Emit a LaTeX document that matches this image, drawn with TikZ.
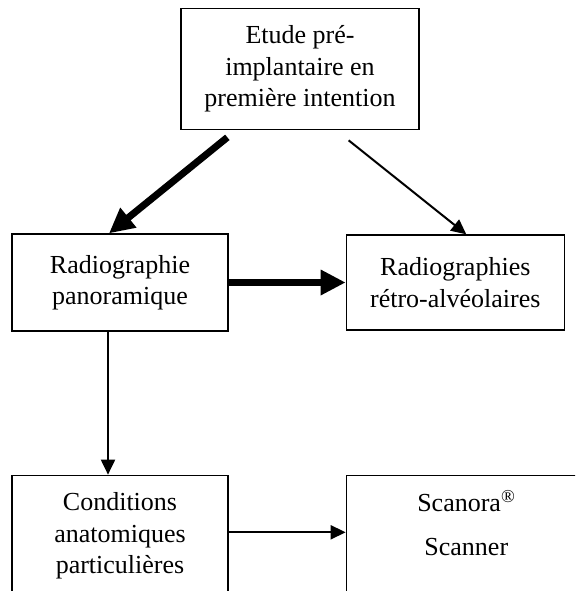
\documentclass[tikz,border=0pt]{standalone}
\usepackage{fontspec}
\setmainfont{Liberation Serif}
\usetikzlibrary{arrows.meta, positioning}

\begin{document}
\begin{tikzpicture}[
  x=1pt, y=-1pt,
  font=\fontsize{26}{31.5}\selectfont,
  box/.style     ={rectangle, draw=black, line width=1.3pt, align=center, inner sep=0pt, minimum width=216pt, minimum height=97pt},
  tallbox/.style ={box, minimum height=121pt},
  thinarr/.style ={-{Triangle[length=15pt, width=14pt]}, line width=2pt},
  thickarr/.style={-{Triangle[length=25pt, width=24pt]}, line width=7pt}
]
\useasboundingbox (0,0) rectangle (575,591);
\clip (0,0) rectangle (575,591);

% ---- middle row ----
\node[box] (pano) at (120,282.5) {Radiographie\\panoramique};
\node[box, minimum width=218pt, minimum height=95pt] (retro) [right=117pt of pano] {Radiographies\\rétro-alvéolaires};

% ---- top ----
\node[tallbox, minimum width=238pt] (etude) [above=103pt of pano, xshift=180pt] {Etude pré-\\implantaire en\\première intention};

% ---- bottom row (cut by the page edge) ----
\node[tallbox] (cond) [below=143pt of pano] {Conditions\\anatomiques\\particulières};
\node[tallbox, minimum width=240pt] (scan) [right=117pt of cond] {Scanora\textsuperscript{®}\\[12.5pt]Scanner\rule[-25.8pt]{0pt}{1pt}};

% ---- edges ----
\draw[thickarr] ([xshift=47pt, yshift=-7pt]etude.south west) -- ([xshift=-11pt]pano.north);
\draw[thinarr]  ([xshift=-71pt, yshift=-10pt]etude.south east) -- ([xshift=11pt]retro.north);
\draw[thickarr] (pano.east) -- (retro.west);
\draw[thinarr]  ([xshift=-12pt]pano.south) -- ([xshift=-12pt]cond.north);
\draw[thinarr]  ([yshift=3.5pt]cond.east) -- ([yshift=3.5pt]scan.west);

\end{tikzpicture}
\end{document}
